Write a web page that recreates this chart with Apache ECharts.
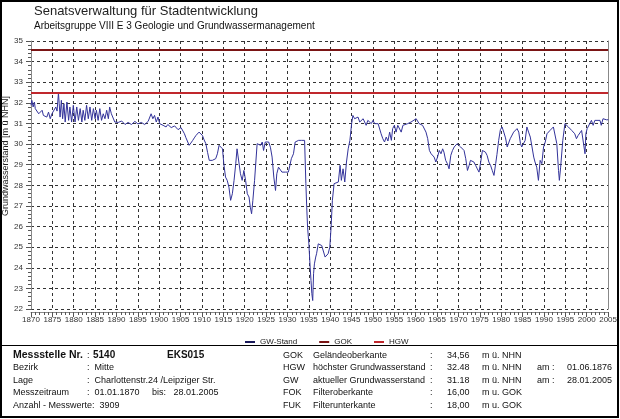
<!DOCTYPE html>
<html><head><meta charset="utf-8">
<script src="https://cdn.jsdelivr.net/npm/echarts@6/dist/echarts.min.js"></script>
<style>html,body{margin:0;padding:0;background:#fff}#c{width:620px;height:419px}</style>
</head><body><div id="c"></div>
<script>
// decimal years of measurements
const years = [1870.0,1870.2,1870.5,1870.8,1871.0,1871.4,1871.8,1872.2,1872.6,1872.9,1873.3,1873.7,1874.1,1874.5,1874.9,1875.3,1875.8,1876.1,1876.42,1876.6,1876.8,1877.1,1877.4,1877.7,1878.0,1878.4,1878.8,1879.1,1879.5,1879.9,1880.3,1880.7,1881.1,1881.5,1881.9,1882.2,1882.6,1883.0,1883.4,1883.8,1884.2,1884.6,1885.0,1885.3,1885.7,1886.1,1886.5,1886.9,1887.3,1887.7,1888.1,1888.4,1888.8,1889.2,1889.6,1890.0,1890.4,1890.8,1891.2,1891.6,1892.0,1892.3,1892.7,1893.1,1893.5,1893.9,1894.3,1894.7,1895.0,1895.4,1895.8,1896.2,1896.6,1897.0,1897.4,1897.8,1898.1,1898.5,1898.9,1899.3,1899.7,1900.1,1900.5,1900.9,1901.3,1901.6,1902.0,1902.4,1902.8,1903.2,1903.6,1904.0,1904.4,1904.7,1905.1,1905.5,1905.9,1906.2,1906.6,1907.0,1907.4,1907.8,1908.2,1908.6,1909.0,1909.3,1909.7,1910.1,1910.5,1910.9,1911.3,1911.7,1912.0,1912.4,1912.8,1913.2,1913.6,1914.0,1914.4,1914.8,1915.1,1915.5,1915.9,1916.3,1916.7,1917.1,1917.5,1917.9,1918.2,1918.6,1919.0,1919.4,1919.8,1920.2,1920.6,1921.0,1921.3,1921.6,1921.9,1922.3,1922.9,1923.3,1923.7,1924.1,1924.4,1924.8,1925.2,1925.6,1926.0,1926.4,1926.8,1927.2,1927.5,1927.9,1928.3,1928.7,1929.1,1929.5,1929.9,1930.2,1930.6,1930.9,1931.4,1931.8,1932.2,1932.6,1932.9,1933.3,1933.7,1934.0,1934.3,1934.5,1934.7,1935.0,1935.3,1935.5,1935.7,1935.9,1936.1,1936.3,1936.6,1936.8,1937.2,1937.6,1938.0,1938.4,1938.8,1939.2,1939.5,1939.9,1940.2,1940.5,1940.9,1941.2,1941.9,1942.3,1942.6,1943.0,1943.4,1943.8,1944.2,1944.6,1945.0,1945.3,1945.7,1946.1,1946.5,1946.9,1947.3,1947.7,1948.1,1948.4,1948.8,1949.2,1949.6,1950.0,1950.4,1950.8,1951.2,1951.5,1951.9,1952.3,1952.7,1953.1,1953.5,1953.9,1954.3,1954.6,1955.0,1955.4,1955.8,1956.2,1956.6,1957.0,1957.4,1958.1,1958.9,1960.1,1960.8,1961.6,1962.4,1962.8,1963.2,1963.6,1963.9,1964.3,1964.7,1965.1,1965.5,1965.9,1966.3,1966.6,1967.0,1967.4,1967.8,1968.2,1968.6,1969.0,1969.4,1969.7,1970.1,1970.5,1970.9,1971.3,1971.7,1972.1,1972.5,1972.8,1973.2,1973.6,1974.0,1974.4,1974.8,1975.2,1975.6,1976.0,1976.3,1976.7,1977.1,1977.5,1977.9,1978.3,1978.7,1979.0,1979.4,1979.8,1980.2,1980.6,1981.0,1981.4,1982.1,1982.9,1983.7,1984.1,1984.5,1984.8,1985.2,1985.6,1986.0,1986.4,1986.8,1987.2,1987.6,1987.9,1988.3,1988.7,1989.1,1989.5,1989.9,1990.3,1990.7,1991.4,1992.2,1992.6,1993.0,1993.4,1993.6,1993.9,1994.4,1994.9,1995.7,1996.5,1997.2,1997.6,1998.0,1998.8,1999.2,1999.6,1999.8,2000.1,2000.7,2001.1,2001.5,2001.9,2002.3,2003.1,2003.4,2003.8,2004.6,2005.07];
// groundwater level [m ü NHN]
const levels = [31.88,32.12,31.80,32.04,31.72,31.64,31.47,31.55,31.64,31.39,31.47,31.31,31.55,31.23,31.47,31.39,31.80,31.60,32.48,31.96,31.31,32.12,31.23,31.96,31.07,32.04,31.15,31.80,31.07,31.88,31.07,31.80,31.15,31.72,31.07,31.64,31.15,31.88,31.23,31.80,31.15,31.72,31.23,31.64,31.15,31.72,31.15,31.47,31.23,31.64,31.23,31.80,31.47,31.55,31.07,31.15,31.05,30.99,31.12,31.07,30.95,30.91,31.05,31.07,30.95,30.99,31.10,31.15,30.98,30.91,31.05,31.07,30.95,30.99,31.10,31.15,31.47,31.23,31.39,31.07,31.31,30.99,31.05,30.91,30.98,30.83,30.95,30.91,30.80,30.75,30.88,30.83,30.70,30.67,30.80,30.75,30.50,30.33,30.26,29.94,30.05,30.17,30.30,30.42,30.50,30.58,30.67,30.42,30.20,30.02,29.60,29.21,29.25,29.21,29.30,29.29,29.53,29.94,30.02,29.77,29.05,28.40,28.24,27.91,27.27,27.59,28.24,29.05,29.77,29.69,28.56,28.24,28.72,28.24,27.59,27.43,26.94,26.62,27.27,28.24,30.02,30.10,29.94,30.10,29.69,30.10,30.02,30.10,29.85,29.37,28.40,27.75,28.56,28.88,28.80,28.64,28.72,28.64,28.70,28.64,29.00,29.29,29.53,30.10,30.15,30.18,30.10,30.18,30.21,30.18,28.08,26.94,25.97,25.16,24.03,23.38,22.74,22.41,23.71,24.19,24.52,24.68,25.16,25.24,25.08,25.00,24.52,24.44,24.68,25.00,25.97,27.27,28.08,28.08,28.16,28.97,28.24,28.80,28.16,29.13,29.77,30.18,30.99,31.39,31.23,31.15,31.31,31.07,31.15,31.23,31.31,30.91,31.15,31.07,30.99,31.15,30.99,30.91,30.99,30.91,30.50,30.26,30.10,30.34,30.15,30.58,30.18,30.75,30.91,30.58,30.91,30.83,30.58,30.91,30.99,30.99,31.07,31.23,30.99,30.91,30.58,30.26,29.69,29.53,29.61,29.37,29.13,29.37,29.69,29.53,29.77,29.61,29.21,29.05,28.80,29.45,29.69,29.86,29.94,30.02,30.10,29.86,29.94,29.69,29.29,28.72,28.97,29.21,29.29,29.13,28.97,28.80,28.64,29.13,29.69,29.77,29.61,29.45,29.13,28.97,28.72,28.48,29.05,29.50,30.18,30.70,30.83,30.58,30.30,29.86,30.26,30.58,30.75,30.58,30.02,29.86,29.94,30.18,30.83,30.58,30.34,29.86,29.37,29.13,28.88,28.24,29.21,29.05,29.86,30.10,30.50,30.66,30.83,30.75,30.02,28.72,28.24,28.88,30.18,30.99,30.83,30.66,30.50,30.26,30.42,30.66,30.58,29.53,30.50,30.75,30.99,31.15,30.91,31.15,31.07,31.15,30.91,31.23,31.18,31.18];
const GOK = 34.56;   // Geländeoberkante
const HGW = 32.48;   // höchster Grundwasserstand
const xRange = [1870, 2005];
const yRange = [22, 35];
const seriesNames = ['GW-Stand', 'GOK', 'HGW'];

const gw = years.map((y, i) => [y, levels[i]]);
const F = 'Liberation Sans, Arial, sans-serif';

function txt(x, y, s, opt) {
  opt = opt || {};
  return {type:'text', left:x, top:y - (opt.size || 9) * 0.6, silent:true,
    style:{text:s, font:(opt.bold?'bold ':'') + (opt.size || 9) + 'px ' + F, fill:'#111'}};
}
const rows = [356, 368.5, 381, 393.5, 406];
const info = [
  txt(13, rows[0], 'Messstelle Nr.', {bold:true, size:10.5}),
  txt(87, rows[0], ':'), txt(93, rows[0], '5140', {bold:true, size:10}),
  txt(167, rows[0], 'EKS015', {bold:true, size:10}),
  txt(13, rows[1], 'Bezirk'), txt(87, rows[1], ':  Mitte'),
  txt(13, rows[2], 'Lage'), txt(87, rows[2], ':  Charlottenstr.24 /Leipziger Str.'),
  txt(13, rows[3], 'Messzeitraum'), txt(87, rows[3], ':  01.01.1870     bis:   28.01.2005'),
  txt(13, rows[4], 'Anzahl - Messwerte:  3909'),
  txt(283, rows[0], 'GOK'), txt(283, rows[1], 'HGW'), txt(283, rows[2], 'GW'), txt(283, rows[3], 'FOK'), txt(283, rows[4], 'FUK'),
  txt(313, rows[0], 'Geländeoberkante'), txt(313, rows[1], 'höchster Grundwasserstand'),
  txt(313, rows[2], 'aktueller Grundwasserstand'), txt(313, rows[3], 'Filteroberkante'), txt(313, rows[4], 'Filterunterkante'),
  txt(430, rows[0], ':'), txt(430, rows[1], ':'), txt(430, rows[2], ':'), txt(430, rows[3], ':'), txt(430, rows[4], ':'),
  txt(447, rows[0], '34,56'), txt(447, rows[1], '32.48'), txt(447, rows[2], '31.18'), txt(447, rows[3], '16,00'), txt(447, rows[4], '18,00'),
  txt(482, rows[0], 'm ü. NHN'), txt(482, rows[1], 'm ü. NHN'), txt(482, rows[2], 'm ü. NHN'), txt(482, rows[3], 'm u. GOK'), txt(482, rows[4], 'm u. GOK'),
  txt(537, rows[1], 'am :'), txt(537, rows[2], 'am :'),
  txt(567, rows[1], '01.06.1876'), txt(567, rows[2], '28.01.2005')
];

const chart = echarts.init(document.getElementById('c'), null, {renderer:'canvas'});
const gridLine = {show:true, lineStyle:{type:[3,3], color:'#333', width:1}};
chart.setOption({
  animation:false,
  backgroundColor:'#fff',
  grid:{left:31, top:41, width:581, height:268},
  legend:{data:seriesNames, left:240, top:333, icon:'rect', itemWidth:10, itemHeight:2, itemGap:22,
    textStyle:{fontSize:8, color:'#222', fontFamily:F}},
  xAxis:{type:'value', min:xRange[0], max:xRange[1], interval:5, offset:3,
    axisLine:{show:true, lineStyle:{color:'#888'}},
    axisTick:{show:true, length:5, lineStyle:{color:'#555'}},
    minorTick:{show:true, splitNumber:5, length:3, lineStyle:{color:'#555'}},
    axisLabel:{fontSize:8, color:'#333', margin:4, fontFamily:F, formatter:v=>String(v)},
    splitLine:gridLine},
  yAxis:[{type:'value', min:yRange[0], max:yRange[1], interval:1,
    axisLine:{show:true, lineStyle:{color:'#888'}},
    axisTick:{show:true, length:5, lineStyle:{color:'#555'}},
    minorTick:{show:true, splitNumber:5, length:3, lineStyle:{color:'#555'}},
    axisLabel:{fontSize:8, color:'#333', margin:8, fontFamily:F},
    splitLine:gridLine},
   {type:'value', position:'right', min:yRange[0], max:yRange[1], interval:1,
    axisLine:{show:true, lineStyle:{color:'#888'}}, axisTick:{show:false}, axisLabel:{show:false}, splitLine:{show:false}}],
  series:[
    {name:seriesNames[0], type:'line', data:gw, showSymbol:false, symbol:'none', z:3,
      lineStyle:{color:'#33339a', width:1}, itemStyle:{color:'#1a1a5a'}},
    {name:seriesNames[1], type:'line', data:[[xRange[0], GOK],[xRange[1], GOK]], symbol:'none',
      lineStyle:{color:'#7a1414', width:2}, itemStyle:{color:'#7a1414'}},
    {name:seriesNames[2], type:'line', data:[[xRange[0], HGW],[xRange[1], HGW]], symbol:'none',
      lineStyle:{color:'#c0282d', width:2}, itemStyle:{color:'#c0282d'}}
  ],
  graphic:[
    {type:'rect', shape:{x:1, y:1, width:617, height:416}, style:{fill:'none', stroke:'#000', lineWidth:2}, silent:true},
    {type:'line', shape:{x1:1, y1:345.5, x2:619, y2:345.5}, style:{stroke:'#000', lineWidth:1}, silent:true},
    {type:'text', left:34, top:5, style:{text:'Senatsverwaltung für Stadtentwicklung', font:'13px ' + F, fill:'#222'}},
    {type:'text', left:34, top:21, style:{text:'Arbeitsgruppe VIII E 3 Geologie und Grundwassermanagement', font:'10px ' + F, fill:'#111'}},
    {type:'text', x:6, y:156, rotation:Math.PI/2, style:{text:'Grundwasserstand [m ü NHN]', font:'9px ' + F, fill:'#222', textAlign:'center', textVerticalAlign:'middle'}}
  ].concat(info)
});
</script></body></html>
